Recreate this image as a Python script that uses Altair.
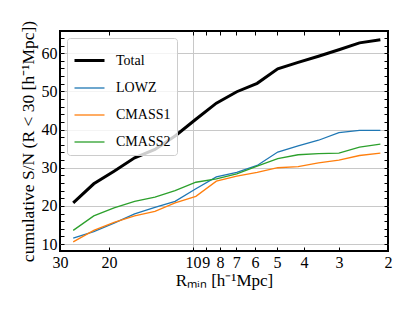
import altair as alt
import pandas as pd

r_min = [26.9, 22.7, 19.2, 16.2, 13.7, 11.6, 9.77, 8.25, 6.97, 5.89, 4.97, 4.20, 3.55, 3.0, 2.53, 2.13]
series_names = ["Total", "LOWZ", "CMASS1", "CMASS2"]
total = [20.8, 25.8, 29.1, 32.6, 34.8, 38.3, 42.7, 46.9, 49.9, 52.1, 55.9, 57.6, 59.2, 60.9, 62.7, 63.5]
lowz = [11.6, 13.3, 15.5, 17.9, 19.6, 21.2, 24.5, 27.6, 28.8, 30.6, 34.1, 35.7, 37.2, 39.2, 39.8, 39.8]
cmass1 = [10.6, 13.6, 15.7, 17.4, 18.6, 20.8, 22.5, 26.5, 27.8, 28.8, 30.0, 30.3, 31.3, 32.0, 33.2, 33.8]
cmass2 = [13.6, 17.4, 19.5, 21.2, 22.3, 24.0, 26.2, 27.1, 28.4, 30.4, 32.4, 33.4, 33.7, 33.8, 35.4, 36.2]
colors = ["#000000", "#1f77b4", "#ff7f0e", "#2ca02c"]
widths = [3, 1.3, 1.3, 1.3]
x_ticks = [30, 20, 10, 9, 8, 7, 6, 5, 4, 3, 2]
y_ticks = list(range(10, 66, 2))

rows = []
for name, vals in zip(series_names, [total, lowz, cmass1, cmass2]):
    for r, v in zip(r_min, vals):
        rows.append({"R": r, "SN": v, "series": name})
df = pd.DataFrame(rows)

FONT = "Liberation Serif"
xscale = alt.Scale(type="log", domain=[2, 30], reverse=True, nice=False)
yscale = alt.Scale(domain=[8.2, 65.8], nice=False, zero=False)

leg = alt.Legend(title=None, orient="top-left", offset=7, padding=6,
                 fillColor="rgba(255,255,255,0.8)", strokeColor="#cccccc",
                 cornerRadius=3, symbolType="stroke", symbolSize=900,
                 labelFont=FONT, labelFontSize=14, labelOffset=10,
                 rowPadding=4, symbolOpacity=1)

xaxis = alt.Axis(values=x_ticks, format="~g", labelFlush=False, labelOverlap=False,
                 offset=-4, tickSize=4, domain=False, grid=True,
                 gridOpacity={"condition": {"test": "datum.value === 10", "value": 1}, "value": 0},
                 gridColor="#c8c8c8", gridWidth=1,
                 tickColor="black", labelColor="black", labelFont=FONT, labelFontSize=16,
                 labelPadding=3, title="Rₘᵢₙ [h⁻¹Mpc]", titleFont=FONT, titleFontSize=17,
                 titleFontWeight="normal", titleColor="black", titlePadding=2)
yaxis = alt.Axis(values=y_ticks, labelExpr="datum.value % 10 === 0 ? datum.label : ''",
                 offset=-4, tickSize=4, domain=False, grid=True,
                 gridOpacity={"condition": {"test": "datum.value % 10 === 0", "value": 1}, "value": 0},
                 gridColor="#c8c8c8", gridWidth=1,
                 tickColor="black", labelColor="black", labelFont=FONT, labelFontSize=16,
                 labelPadding=3, title="cumulative S/N (R < 30 [h⁻¹Mpc])", titleFont=FONT,
                 titleFontSize=17.5, titleFontWeight="normal", titleColor="black", titlePadding=4)

lines = alt.Chart(df).mark_line().encode(
    x=alt.X("R:Q", scale=xscale, axis=xaxis),
    y=alt.Y("SN:Q", scale=yscale, axis=yaxis),
    color=alt.Color("series:N", scale=alt.Scale(domain=series_names, range=colors), legend=leg),
    strokeWidth=alt.StrokeWidth("series:N", scale=alt.Scale(type="ordinal", domain=series_names, range=widths), legend=leg),
)

frame_axes = alt.Chart(df).mark_point(opacity=0).encode(
    x=alt.X("R:Q", scale=xscale, axis=alt.Axis(orient="top", values=x_ticks, labels=False,
                                                offset=-4, tickSize=4, domain=False, grid=False,
                                                tickColor="black", title=None)),
    y=alt.Y("SN:Q", scale=yscale, axis=alt.Axis(orient="right", values=y_ticks, labels=False,
                                                 offset=-4, tickSize=4, domain=False, grid=False,
                                                 tickColor="black", title=None)),
)

chart = alt.layer(lines, frame_axes).resolve_axis(x="independent", y="independent").properties(
    width=328, height=220,
    autosize=alt.AutoSizeParams(type="none"),
    padding={"left": 52, "top": 23, "right": 19, "bottom": 50},
    background="white",
).configure_view(stroke="black", strokeWidth=2)

chart.save("out.html", embed_options={"renderer": "svg", "actions": False})
